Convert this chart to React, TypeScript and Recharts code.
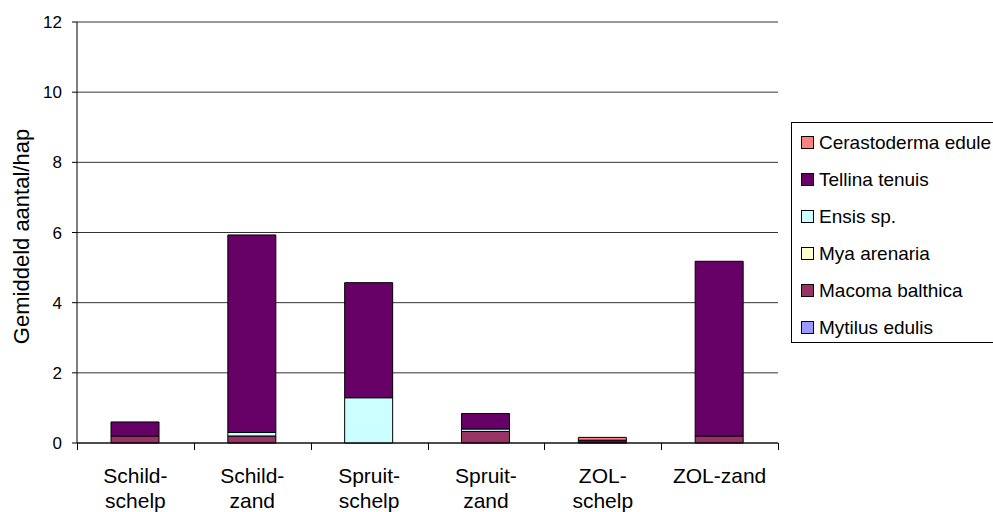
import React from 'react';
import { BarChart, Bar, XAxis, YAxis, CartesianGrid } from 'recharts';

const locations = ['Schild-schelp', 'Schild-zand', 'Spruit-schelp', 'Spruit-zand', 'ZOL-schelp', 'ZOL-zand'];
const mytilus = [0, 0, 0, 0, 0, 0];
const macoma = [0.2, 0.2, 0, 0.33, 0, 0.2];
const mya = [0, 0, 0, 0, 0, 0];
const ensis = [0, 0.1, 1.29, 0.07, 0, 0];
const tellina = [0.4, 5.63, 3.28, 0.44, 0.08, 4.98];
const cerastoderma = [0, 0, 0, 0, 0.08, 0];
const yTicks = [0, 2, 4, 6, 8, 10, 12];

const series = [
  { key: 'mytilus', name: 'Mytilus edulis', color: '#9999FF', values: mytilus },
  { key: 'macoma', name: 'Macoma balthica', color: '#993366', values: macoma },
  { key: 'mya', name: 'Mya arenaria', color: '#FFFFCC', values: mya },
  { key: 'ensis', name: 'Ensis sp.', color: '#CCFFFF', values: ensis },
  { key: 'tellina', name: 'Tellina tenuis', color: '#660066', values: tellina },
  { key: 'cerastoderma', name: 'Cerastoderma edule', color: '#FF8080', values: cerastoderma },
];

const data = locations.map((loc, i) => {
  const row: Record<string, any> = { loc };
  series.forEach((s) => (row[s.key] = s.values[i]));
  return row;
});

const font = '"Liberation Sans", Arial, sans-serif';

// ZOL-zand stays on one line, the others break after the dash
const splitLabel = (text: string) => {
  if (text === 'ZOL-zand') return [text];
  const dash = text.indexOf('-');
  return [text.slice(0, dash + 1), text.slice(dash + 1)];
};

const CatTick = (props: any) => {
  const { x, y, payload } = props;
  const band = 701 / locations.length;
  const lines = splitLabel(payload.value);
  const left = Math.round(x - band / 2) + 0.5;
  const right = Math.round(x + band / 2) + 0.5;
  return (
    <g>
      <path d={`M${left},${y - 8}V${y - 1}M${right},${y - 8}V${y - 1}`} stroke="#000" strokeWidth={1} fill="none" />
      <text x={x} y={y + 32} textAnchor="middle" fontSize={21} fontFamily={font} fill="#000">
        {lines.map((l, k) => (
          <tspan key={k} x={x} dy={k === 0 ? 0 : 25}>{l}</tspan>
        ))}
      </text>
    </g>
  );
};

const YLabel = (props: any) => {
  const vb = props.viewBox || { y: 22, height: 421 };
  const cy = vb.y + vb.height / 2 + 4;
  return (
    <text
      x={21}
      y={cy}
      transform={`rotate(-90 21 ${cy})`}
      textAnchor="middle"
      dominantBaseline="central"
      fontSize={22}
      fontFamily={font}
      fill="#000"
    >
      Gemiddeld aantal/hap
    </text>
  );
};

export default function App() {
  const legendItems = [...series].reverse();
  return (
    <div style={{ position: 'absolute', left: 0, top: 0, width: 993, height: 512, background: '#fff', overflow: 'hidden' }}>
      <BarChart
        width={993}
        height={512}
        data={data}
        margin={{ top: 22, right: 215, bottom: 0, left: 0 }}
        barSize={48}
      >
        <CartesianGrid vertical={false} stroke="#000" strokeOpacity={0.8} />
        <XAxis
          dataKey="loc"
          interval={0}
          tick={<CatTick />}
          tickLine={false}
          axisLine={{ stroke: '#000' }}
          height={69}
        />
        <YAxis
          domain={[0, 12]}
          ticks={yTicks}
          interval={0}
          width={77}
          tickSize={5}
          tickMargin={10}
          tickLine={{ stroke: '#000' }}
          axisLine={{ stroke: '#000' }}
          tick={{ fill: '#000', fontSize: 17, fontFamily: font }}
          label={{ content: <YLabel /> }}
        />
        <YAxis
          yAxisId="r"
          orientation="right"
          width={0}
          tick={false}
          tickLine={false}
          axisLine={{ stroke: '#888' }}
        />
        {series.map((s) => (
          <Bar
            key={s.key}
            dataKey={s.key}
            name={s.name}
            stackId="a"
            fill={s.color}
            stroke="#000"
            strokeWidth={1}
            isAnimationActive={false}
          />
        ))}
      </BarChart>
      <div
        style={{
          position: 'absolute',
          left: 791,
          top: 122,
          width: 220,
          height: 221,
          border: '1px solid #000',
          boxSizing: 'border-box',
          fontFamily: font,
          fontSize: 19,
          paddingTop: 1,
        }}
      >
        {legendItems.map((s) => (
          <div key={s.key} style={{ display: 'flex', alignItems: 'center', height: 37, paddingLeft: 9 }}>
            <span
              style={{
                display: 'inline-block',
                width: 11,
                height: 11,
                background: s.color,
                border: '1px solid #000',
                marginRight: 5,
              }}
            />
            <span>{s.name}</span>
          </div>
        ))}
      </div>
    </div>
  );
}
